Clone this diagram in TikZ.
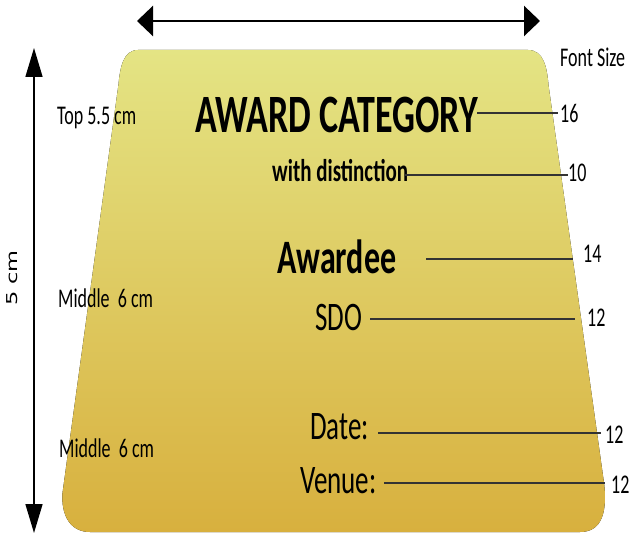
\documentclass[tikz,border=0pt]{standalone}
\usepackage{fontspec}
\setmainfont{Carlito}
\newfontfamily\dejavu{DejaVu Sans}
\usetikzlibrary{arrows.meta}
\newcommand{\stt}[1]{\scalebox{1}[1.5]{#1}}
\definecolor{cardtop}{RGB}{228,228,132}
\definecolor{cardbot}{RGB}{216,176,62}
\tikzset{
  txt/.style={inner sep=0pt, anchor=base west, text=black},
  lead/.style={line width=1.6pt, draw=black!80},
}
\begin{document}
\begin{tikzpicture}[x=1pt,y=-1pt]
\useasboundingbox (0,0) rectangle (631,534);
% card
\fill[top color=cardtop, bottom color=cardbot]
  (138,50) -- (528,50) .. controls (544,50) and (547,68) .. (548.5,85)
  -- (604.3,485) .. controls (607,512) and (602,532) .. (580,532)
  -- (90,532) .. controls (70,532) and (61,515) .. (62.5,493)
  -- (118.4,85) .. controls (120,68) and (123,50) .. (138,50) -- cycle;
% dimension arrows
\coordinate (hl) at (137,21);
\coordinate (hr) at (540,21);
\draw[line width=2.6pt, {Triangle[length=16pt,width=30pt]}-{Triangle[length=16pt,width=30pt]}] (hl) -- (hr);
\coordinate (vt) at (34,48);
\coordinate (vb) at (34,533);
\draw[line width=1.5pt, {Triangle[length=29pt,width=17pt]}-{Triangle[length=29pt,width=17pt]}] (vt) -- (vb);
\node[inner sep=0pt, rotate=90] (fivecm) at (12,278) {\dejavu\fontsize{15}{18}\selectfont\scalebox{1.5}[1]{5 cm}};
% left labels
\node[txt] (top) at (57,125) {\stt{\fontsize{18}{20}\selectfont Top 5.5 cm}};
\node[txt] (mid1) at (58,307) {\stt{\fontsize{18}{20}\selectfont Middle\ \ 6 cm}};
\node[txt] (mid2) at (59,457) {\stt{\fontsize{18}{20}\selectfont Middle\ \ 6 cm}};
% main texts
\node[txt] (cat) at (195,133) {\stt{\fontsize{36}{40}\selectfont\bfseries AWARD CATEGORY}};
\node[txt] (dist) at (272,182) {\stt{\fontsize{21}{24}\selectfont\bfseries with distinction}};
\node[txt] (awd) at (277,273) {\stt{\fontsize{32}{36}\selectfont\bfseries Awardee}};
\node[txt] (sdo) at (315,330) {\stt{\fontsize{27}{30}\selectfont SDO}};
\node[txt] (date) at (310,439) {\stt{\fontsize{27}{30}\selectfont Date:}};
\node[txt] (venue) at (300,493) {\stt{\fontsize{27}{30}\selectfont Venue:}};
% font sizes
\node[txt] (fs) at (560,67) {\stt{\fontsize{18}{20}\selectfont Font Size}};
\node[txt] (n16) at (560,123) {\stt{\fontsize{18}{20}\selectfont 16}};
\node[txt] (n10) at (568,182) {\stt{\fontsize{18}{20}\selectfont 10}};
\node[txt] (n14) at (583,263) {\stt{\fontsize{18}{20}\selectfont 14}};
\node[txt] (n12a) at (587,326) {\stt{\fontsize{18}{20}\selectfont 12}};
\node[txt] (n12b) at (605,443) {\stt{\fontsize{18}{20}\selectfont 12}};
\node[txt] (n12c) at (611,493) {\stt{\fontsize{18}{20}\selectfont 12}};
% leaders
\coordinate (l16) at (477,113);
\coordinate (l10) at (405,175);
\coordinate (l14) at (426,259);
\coordinate (l12a) at (370,319);
\coordinate (l12b) at (378,433);
\coordinate (l12c) at (384,483);
\draw[lead] (l16) -- ([xshift=-2pt]l16 -| n16.west);
\draw[lead] (l10) -- (l10 -| n10.west);
\draw[lead] (l14) -- ([xshift=-10pt]l14 -| n14.west);
\draw[lead] (l12a) -- ([xshift=-12pt]l12a -| n12a.west);
\draw[lead] (l12b) -- ([xshift=-4pt]l12b -| n12b.west);
\draw[lead] (l12c) -- ([xshift=-6pt]l12c -| n12c.west);
\end{tikzpicture}
\end{document}
